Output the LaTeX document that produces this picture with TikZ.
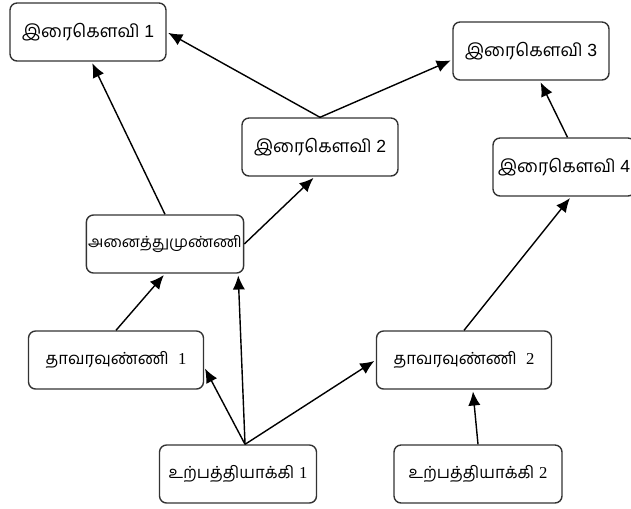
\documentclass[tikz,border=0pt]{standalone}
\usepackage{fontspec}
\setmainfont{Liberation Sans}
\newfontfamily\tamil[Script=Tamil]{Hind Madurai}
\newfontfamily\serifnum{Liberation Serif}
\usetikzlibrary{arrows.meta}
\usetikzlibrary{positioning}

\begin{document}
\begin{tikzpicture}
        [x=0.02cm, y=-0.02cm,
         every node/.style={draw=black!80, rounded corners=4pt, line width=0.8pt,
                            minimum width=3.12cm, minimum height=1.16cm, inner sep=2pt,
                            font=\fontsize{10}{12}\selectfont},
         low/.style={font=\fontsize{9.5}{11}\selectfont},
         link/.style={line width=0.8pt, -{Latex[length=8pt, width=7pt]}, shorten >=1pt}]
        \useasboundingbox (0,0) rectangle (631,508);
        \node (i1) at (88,32) {{\tamil இரைகௌவி} 1};
        \node (i2) at (320,147) {{\tamil இரைகௌவி} 2};
        \node (i3) at (531,51) {{\tamil இரைகௌவி} 3};
        \node [minimum width=2.84cm] (i4) at (564,167) {{\tamil இரைகௌவி} 4};
        \node [low, font=\fontsize{8.8}{11}\selectfont, inner xsep=1pt] (om) at (165,244) {\tamil அனைத்துமுண்ணி};
        \node [low, minimum width=3.5cm] (t1) at (116,360) {{\tamil தாவரவுண்ணி}\ \ {\serifnum 1}};
        \node [low, minimum width=3.5cm] (t2) at (464,360) {{\tamil தாவரவுண்ணி}\ \ {\serifnum 2}};
        \node [low, minimum width=3.14cm] (p1) at (238,474) {{\tamil உற்பத்தியாக்கி} {\serifnum 1}};
        \node [low, minimum width=3.36cm] (p2) at (478,474) {{\tamil உற்பத்தியாக்கி} {\serifnum 2}};
        \draw [link] (i2.north) -- (i1.east);
        \draw [link] (i2.north) -- ([yshift=-5pt]i3.west);
        \draw [link] (om.north) -- ([xshift=2pt]i1.south);
        \draw [link] (om.east) -- ([xshift=-3pt]i2.south);
        \draw [link] (t1.north) -- (om.south);
        \draw [link] ([xshift=4pt]p1.north) -- ([yshift=-4pt]t1.east);
        \draw [link] ([xshift=4pt]p1.north) -- ([xshift=-3.5pt]om.south east);
        \draw [link] ([xshift=4pt]p1.north) -- (t2.west);
        \draw [link] (t2.north) -- ([xshift=4pt]i4.south);
        \draw [link] (p2.north) -- ([xshift=5pt]t2.south);
        \draw [link] ([xshift=2pt]i4.north) -- ([xshift=5pt]i3.south);
    \end{tikzpicture}
\end{document}
